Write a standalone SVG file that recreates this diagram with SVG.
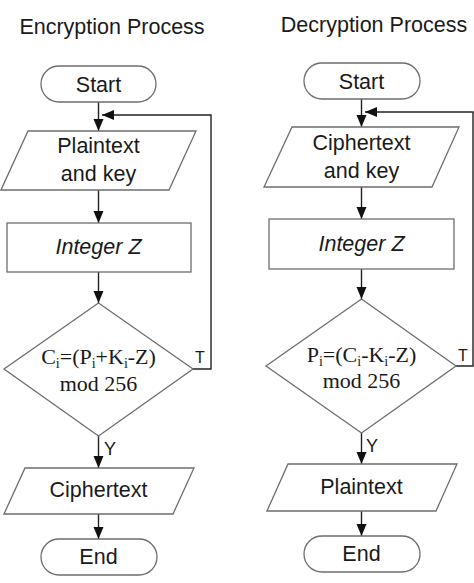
<svg xmlns="http://www.w3.org/2000/svg" width="474" height="583" viewBox="0 0 474 583">
<defs>
<style>
.shape{fill:#fff;stroke:#6e6e6e;stroke-width:1.3}
.conn{fill:none;stroke:#222;stroke-width:1.4}
.t{font-family:"Liberation Sans",Arial,sans-serif;font-size:21.5px;fill:#1a1a1a;text-anchor:middle}
.ti{font-family:"Liberation Sans",Arial,sans-serif;font-size:21.5px;font-style:italic;fill:#1a1a1a;text-anchor:middle}
.m{font-family:"Liberation Serif","Times New Roman",serif;font-size:22px;fill:#1a1a1a;text-anchor:middle}
.lbl{font-family:"Liberation Sans",Arial,sans-serif;font-size:16px;fill:#1a1a1a}
.lblY{font-family:"Liberation Sans",Arial,sans-serif;font-size:18px;fill:#1a1a1a}
</style>
<marker id="ah" markerUnits="userSpaceOnUse" markerWidth="12" markerHeight="12" viewBox="0 0 12 12" refX="12" refY="6" orient="auto">
<path d="M0,1 L12,6 L0,11 Z" fill="#111"/>
</marker>
</defs>

<text class="t" x="112" y="34">Encryption Process</text>
<text class="t" x="374" y="32">Decryption Process</text>

<g id="connectors">
<line class="conn" x1="98.5" y1="102" x2="98.5" y2="131" marker-end="url(#ah)"/>
<line class="conn" x1="98.5" y1="190" x2="98.5" y2="223" marker-end="url(#ah)"/>
<line class="conn" x1="98.5" y1="272" x2="98.5" y2="303" marker-end="url(#ah)"/>
<polyline class="conn" points="193,369 211,369 211,115 102,115" marker-end="url(#ah)"/>
<line class="conn" x1="98.5" y1="436" x2="98.5" y2="468" marker-end="url(#ah)"/>
<line class="conn" x1="98.5" y1="514" x2="98.5" y2="539" marker-end="url(#ah)"/>

<line class="conn" x1="361.5" y1="99" x2="361.5" y2="127" marker-end="url(#ah)"/>
<line class="conn" x1="361.5" y1="187" x2="361.5" y2="219" marker-end="url(#ah)"/>
<line class="conn" x1="361.5" y1="269" x2="361.5" y2="299" marker-end="url(#ah)"/>
<polyline class="conn" points="456,366 473,366 473,112 365,112" marker-end="url(#ah)"/>
<line class="conn" x1="361.5" y1="433" x2="361.5" y2="464" marker-end="url(#ah)"/>
<line class="conn" x1="361.5" y1="511" x2="361.5" y2="536" marker-end="url(#ah)"/>

<text class="lbl" x="195" y="363">T</text>
<text class="lblY" x="104" y="455">Y</text>
<text class="lbl" x="458" y="361">T</text>
<text class="lblY" x="366" y="452">Y</text>
</g>

<g id="enc-start">
<rect class="shape" x="41" y="66" width="115" height="36" rx="18"/>
<text class="t" x="98.5" y="92">Start</text>
</g>
<g id="enc-input">
<polygon class="shape" points="28,131 196,131 169,190 1,190"/>
<text class="t" x="98.5" y="153">Plaintext</text>
<text class="t" x="98.5" y="181">and key</text>
</g>
<g id="enc-integer">
<rect class="shape" x="7" y="223" width="184" height="49"/>
<text class="ti" x="98.5" y="254">Integer Z</text>
</g>
<g id="enc-decision">
<polygon class="shape" points="98.5,303 193,369 98.5,436 4,369"/>
<text class="m" x="98.5" y="364">C<tspan font-size="14" dy="4">i</tspan><tspan dy="-4">=(P</tspan><tspan font-size="14" dy="4">i</tspan><tspan dy="-4">+K</tspan><tspan font-size="14" dy="4">i</tspan><tspan dy="-4">-Z)</tspan></text>
<text class="m" x="98.5" y="391">mod 256</text>
</g>
<g id="enc-output">
<polygon class="shape" points="25,468 194,468 173,514 4,514"/>
<text class="t" x="98.5" y="497">Ciphertext</text>
</g>
<g id="enc-end">
<rect class="shape" x="41" y="539" width="116" height="36" rx="18"/>
<text class="t" x="98.5" y="564">End</text>
</g>

<g id="dec-start">
<rect class="shape" x="304" y="63" width="116" height="36" rx="18"/>
<text class="t" x="361.5" y="89">Start</text>
</g>
<g id="dec-input">
<polygon class="shape" points="292,127 459,127 432,187 264,187"/>
<text class="t" x="361.5" y="150">Ciphertext</text>
<text class="t" x="361.5" y="178">and key</text>
</g>
<g id="dec-integer">
<rect class="shape" x="269" y="219" width="185" height="50"/>
<text class="ti" x="361.5" y="251">Integer Z</text>
</g>
<g id="dec-decision">
<polygon class="shape" points="361.5,299 456,366 361.5,433 266,366"/>
<text class="m" x="361.5" y="362">P<tspan font-size="14" dy="4">i</tspan><tspan dy="-4">=(C</tspan><tspan font-size="14" dy="4">i</tspan><tspan dy="-4">-K</tspan><tspan font-size="14" dy="4">i</tspan><tspan dy="-4">-Z)</tspan></text>
<text class="m" x="361.5" y="388">mod 256</text>
</g>
<g id="dec-output">
<polygon class="shape" points="288,464 457,464 436,511 267,511"/>
<text class="t" x="361.5" y="494">Plaintext</text>
</g>
<g id="dec-end">
<rect class="shape" x="304" y="536" width="116" height="36" rx="18"/>
<text class="t" x="361.5" y="561">End</text>
</g>
</svg>
